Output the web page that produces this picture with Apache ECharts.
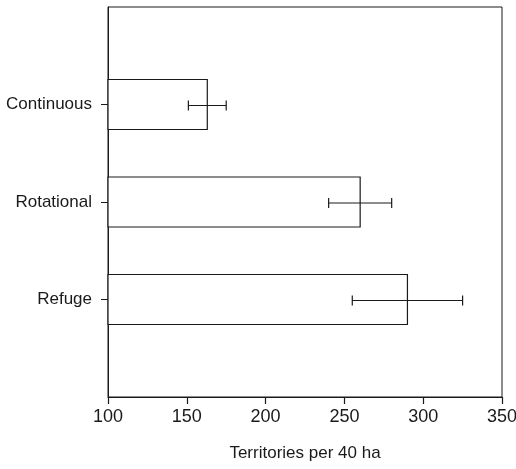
<!DOCTYPE html>
<html>
<head>
<meta charset="utf-8">
<script src="https://cdn.jsdelivr.net/npm/echarts@6/dist/echarts.min.js"></script>
<style>
  html, body { margin: 0; padding: 0; background: #fff; }
  #chart { width: 516px; height: 469px; }
</style>
</head>
<body>
<div id="chart"></div>
<script>
// categories, top to bottom (empty slots pad the axis ends)
const categories = ["", "Continuous", "Rotational", "Refuge", ""];
const treatments = ["Continuous", "Rotational", "Refuge"];
const territories = [163, 260, 290];
const errLow = [151, 240, 255];
const errHigh = [175, 280, 325];
const xTicks = [100, 150, 200, 250, 300, 350];

const ink = "#1a1a1a";
const font = "Liberation Sans, Arial, sans-serif";

const barData = treatments.map((t, i) => [territories[i], t]);
const errData = treatments.map((t, i) => [errLow[i], errHigh[i], t]);

const chart = echarts.init(document.getElementById("chart"));
chart.setOption({
  animation: false,
  grid: {
    left: 108,
    right: 14,
    top: 7,
    bottom: 72,
    outerBoundsMode: "none",
    show: true,
    borderColor: ink,
    borderWidth: 1
  },
  xAxis: {
    type: "value",
    position: "bottom",
    min: xTicks[0],
    max: xTicks[xTicks.length - 1],
    interval: 50,
    name: "Territories per 40 ha",
    nameLocation: "middle",
    nameGap: 48,
    nameTextStyle: { color: ink, fontSize: 17, fontFamily: font },
    splitLine: { show: false },
    axisLine: { show: true, onZero: false, lineStyle: { color: ink, width: 1 } },
    axisTick: { show: true, inside: false, length: 7, lineStyle: { color: ink, width: 1.2 } },
    axisLabel: { color: ink, fontSize: 18, fontFamily: font, margin: 11 }
  },
  yAxis: {
    type: "category",
    data: categories,
    inverse: true,
    boundaryGap: false,
    axisLine: { onZero: false, lineStyle: { color: ink, width: 1 } },
    axisTick: {
      length: 7,
      interval: (idx, val) => val !== "",
      lineStyle: { color: ink }
    },
    axisLabel: { color: ink, fontSize: 17, fontFamily: font, margin: 16 },
    splitLine: { show: false }
  },
  series: [
    {
      type: "custom",
      data: barData,
      renderItem: (params, api) => {
        const start = api.coord([xTicks[0], api.value(1)]);
        const end = api.coord([api.value(0), api.value(1)]);
        const h = 50;
        return {
          type: "rect",
          shape: { x: start[0], y: start[1] - h / 2, width: end[0] - start[0], height: h },
          style: { fill: "#fff", stroke: ink, lineWidth: 1.2 }
        };
      },
      encode: { x: 0, y: 1 },
      z: 2
    },
    {
      type: "custom",
      data: errData,
      renderItem: (params, api) => {
        const lo = api.coord([api.value(0), api.value(2)]);
        const hi = api.coord([api.value(1), api.value(2)]);
        const cap = 5;
        const y = lo[1] + 1;
        const st = { stroke: ink, lineWidth: 1.2 };
        return {
          type: "group",
          children: [
            { type: "line", shape: { x1: lo[0], y1: y, x2: hi[0], y2: y }, style: st },
            { type: "line", shape: { x1: lo[0], y1: y - cap, x2: lo[0], y2: y + cap }, style: st },
            { type: "line", shape: { x1: hi[0], y1: y - cap, x2: hi[0], y2: y + cap }, style: st }
          ]
        };
      },
      encode: { x: [0, 1], y: 2 },
      z: 3
    }
  ]
});
</script>
</body>
</html>
